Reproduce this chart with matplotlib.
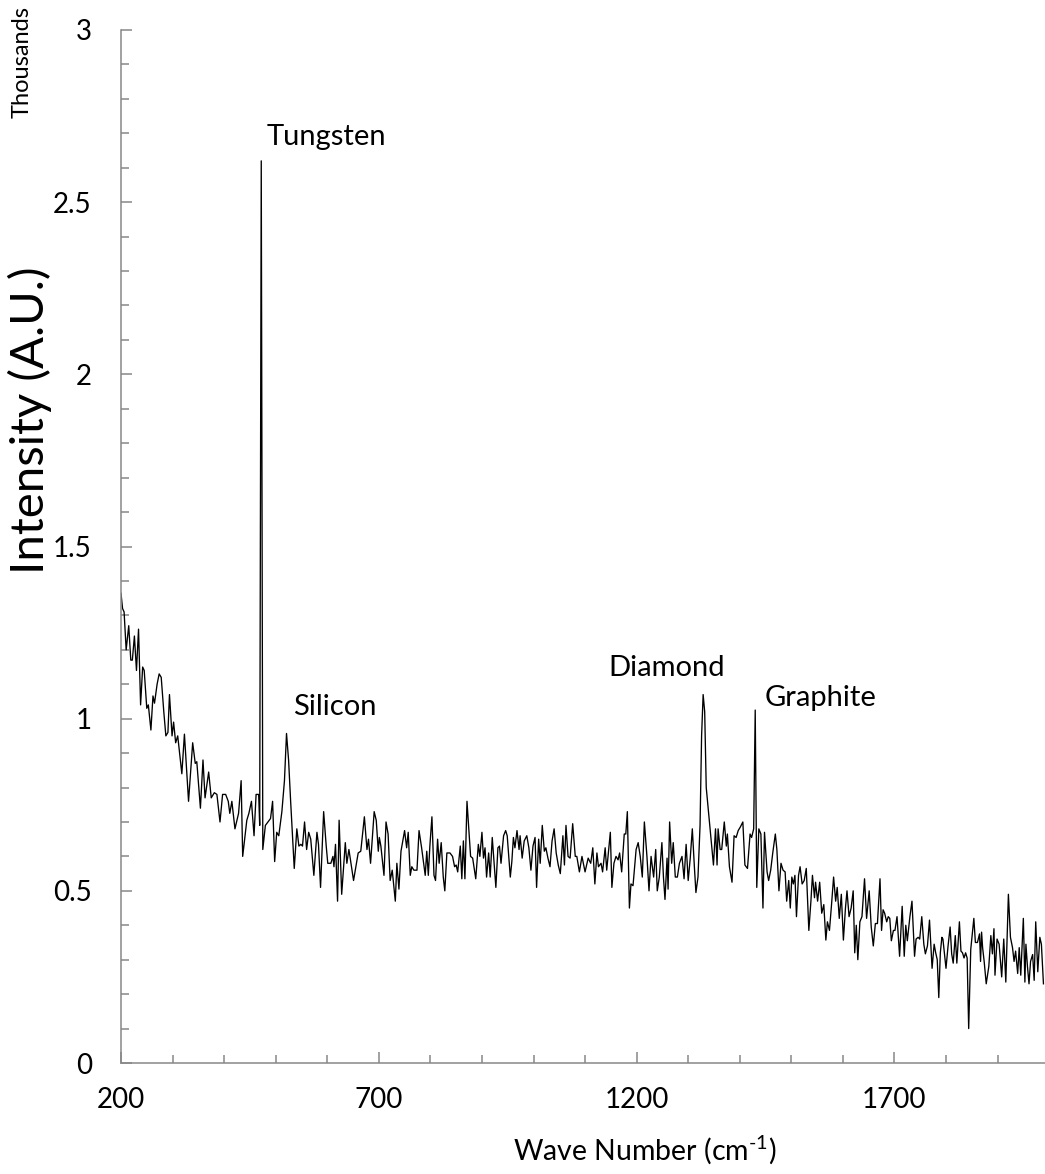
import matplotlib
matplotlib.use("Agg")
import matplotlib.pyplot as plt
from matplotlib.ticker import MultipleLocator, FuncFormatter

# ---------------- data (intensity in thousands of counts) ----------------
wavenumber = [
    200, 203, 206, 210, 215, 219, 222, 226, 230, 234, 238, 242, 245, 250, 253, 258, 262, 265, 270, 274,
    278, 283, 287, 291, 294, 299, 302, 306, 310, 318,
    323, 331, 339, 344, 347, 354, 359, 363, 370, 375, 381, 386, 392, 397, 403, 408, 411, 415, 421, 428,
    433, 436, 444, 448, 453, 458, 462, 467, 469, 472,
    475, 480, 485, 490, 494, 498, 502, 506, 512, 517, 521, 525, 529, 536, 541, 545, 549, 552, 556, 560,
    564, 568, 574, 580, 583, 587, 593, 598, 601, 607,
    611, 613, 616, 620, 623, 628, 635, 638, 642, 651, 660, 665, 672, 677, 680, 684, 691, 695, 699, 701,
    704, 710, 714, 718, 722, 726, 732, 735, 739, 743,
    750, 754, 757, 761, 764, 768, 774, 778, 783, 790, 793, 796, 799, 803, 807, 810, 814, 817, 821, 825,
    828, 832, 838, 843, 847, 850, 853, 858, 861, 864,
    867, 871, 878, 882, 888, 893, 896, 900, 903, 906, 909, 913, 916, 920, 924, 927, 931, 934, 937, 942,
    946, 949, 955, 958, 961, 964, 968, 972, 974, 978,
    982, 987, 991, 995, 999, 1003, 1006, 1010, 1013, 1017, 1021, 1024, 1028, 1032, 1036, 1040, 1044, 1048, 1052, 1057,
    1060, 1063, 1067, 1071, 1076, 1081, 1084, 1089, 1094, 1100,
    1106, 1111, 1115, 1119, 1123, 1126, 1131, 1134, 1139, 1142, 1149, 1152, 1156, 1160, 1164, 1167, 1171, 1176, 1179, 1182,
    1186, 1189, 1193, 1199, 1203, 1207, 1211, 1215, 1220, 1224,
    1228, 1233, 1237, 1240, 1244, 1249, 1252, 1255, 1259, 1261, 1264, 1268, 1271, 1275, 1279, 1283, 1288, 1292, 1296, 1300,
    1304, 1308, 1312, 1315, 1319, 1323, 1326, 1329, 1332, 1335,
    1340, 1349, 1353, 1356, 1358, 1362, 1365, 1370, 1374, 1376, 1380, 1385, 1389, 1393, 1397, 1401, 1406, 1410, 1415, 1420,
    1423, 1427, 1430, 1433, 1437, 1441, 1445, 1448, 1453, 1456,
    1460, 1464, 1469, 1472, 1476, 1480, 1484, 1488, 1491, 1495, 1498, 1501, 1504, 1507, 1510, 1514, 1517, 1521, 1525, 1529,
    1534, 1538, 1541, 1545, 1547, 1551, 1555, 1559, 1563, 1567,
    1570, 1574, 1578, 1582, 1586, 1589, 1593, 1597, 1601, 1605, 1608, 1612, 1616, 1620, 1623, 1626, 1629, 1633, 1637, 1642,
    1646, 1651, 1655, 1659, 1663, 1667, 1672, 1675, 1678, 1681,
    1685, 1688, 1691, 1694, 1698, 1701, 1705, 1710, 1715, 1719, 1722, 1725, 1730, 1734, 1739, 1742, 1746, 1749, 1753, 1757,
    1760, 1764, 1768, 1773, 1777, 1780, 1783, 1786, 1789, 1792,
    1794, 1800, 1804, 1808, 1811, 1814, 1818, 1821, 1826, 1829, 1832, 1835, 1838, 1841, 1844, 1848, 1854, 1857, 1861, 1865,
    1867, 1869, 1871, 1874, 1878, 1883, 1887, 1890, 1893, 1895,
    1899, 1903, 1908, 1912, 1916, 1921, 1925, 1929, 1932, 1935, 1939, 1942, 1945, 1950, 1953, 1955, 1958, 1961, 1964, 1968,
    1971, 1974, 1978, 1982, 1985, 1989,
]

intensity = [
    1.364, 1.32, 1.31, 1.20, 1.27, 1.17, 1.17, 1.24, 1.14, 1.26, 1.04, 1.15, 1.14, 1.03, 1.04, 0.967, 1.066, 1.045, 1.10, 1.13,
    1.12, 1.02, 0.95, 0.96, 1.07, 0.95, 0.99, 0.93, 0.95, 0.84,
    0.955, 0.76, 0.93, 0.87, 0.875, 0.74, 0.88, 0.77, 0.845, 0.77, 0.785, 0.78, 0.70, 0.78, 0.78, 0.76, 0.725, 0.76, 0.68, 0.725,
    0.82, 0.60, 0.705, 0.725, 0.76, 0.66, 0.78, 0.78, 0.69, 2.62,
    0.62, 0.69, 0.70, 0.71, 0.76, 0.585, 0.67, 0.66, 0.73, 0.82, 0.957, 0.88, 0.76, 0.565, 0.68, 0.63, 0.635, 0.63, 0.70, 0.62,
    0.67, 0.65, 0.545, 0.67, 0.635, 0.51, 0.73, 0.63, 0.58, 0.58,
    0.60, 0.57, 0.635, 0.47, 0.705, 0.49, 0.64, 0.58, 0.62, 0.53, 0.61, 0.615, 0.715, 0.62, 0.65, 0.58, 0.73, 0.705, 0.615, 0.655,
    0.63, 0.545, 0.70, 0.665, 0.53, 0.56, 0.47, 0.58, 0.505, 0.615,
    0.675, 0.625, 0.67, 0.545, 0.57, 0.56, 0.56, 0.675, 0.625, 0.545, 0.615, 0.545, 0.63, 0.715, 0.545, 0.53, 0.65, 0.58, 0.64, 0.54,
    0.50, 0.61, 0.61, 0.60, 0.57, 0.575, 0.555, 0.63, 0.535, 0.645,
    0.535, 0.76, 0.60, 0.595, 0.535, 0.635, 0.60, 0.67, 0.595, 0.625, 0.54, 0.61, 0.54, 0.655, 0.57, 0.51, 0.625, 0.63, 0.58, 0.66,
    0.675, 0.66, 0.54, 0.585, 0.655, 0.625, 0.675, 0.62, 0.66, 0.595,
    0.645, 0.66, 0.625, 0.56, 0.63, 0.655, 0.51, 0.65, 0.58, 0.69, 0.615, 0.625, 0.595, 0.57, 0.645, 0.68, 0.61, 0.575, 0.55, 0.66,
    0.575, 0.69, 0.60, 0.595, 0.695, 0.60, 0.60, 0.555, 0.60, 0.555,
    0.595, 0.58, 0.625, 0.52, 0.61, 0.57, 0.58, 0.555, 0.625, 0.56, 0.67, 0.51, 0.58, 0.60, 0.59, 0.61, 0.555, 0.665, 0.665, 0.73,
    0.45, 0.52, 0.515, 0.62, 0.64, 0.60, 0.54, 0.70, 0.60, 0.50,
    0.60, 0.54, 0.62, 0.50, 0.54, 0.64, 0.54, 0.475, 0.595, 0.505, 0.70, 0.58, 0.64, 0.54, 0.54, 0.58, 0.60, 0.535, 0.635, 0.53,
    0.595, 0.68, 0.57, 0.495, 0.54, 0.69, 0.95, 1.07, 1.02, 0.80,
    0.72, 0.575, 0.68, 0.575, 0.68, 0.62, 0.62, 0.70, 0.63, 0.665, 0.57, 0.525, 0.66, 0.655, 0.675, 0.685, 0.70, 0.575, 0.565, 0.665,
    0.655, 0.68, 1.025, 0.51, 0.68, 0.665, 0.45, 0.67, 0.555, 0.53,
    0.56, 0.61, 0.665, 0.62, 0.50, 0.58, 0.56, 0.555, 0.47, 0.53, 0.45, 0.54, 0.52, 0.545, 0.425, 0.545, 0.57, 0.52, 0.53, 0.565,
    0.385, 0.47, 0.545, 0.48, 0.525, 0.47, 0.525, 0.435, 0.46, 0.357,
    0.41, 0.385, 0.46, 0.54, 0.47, 0.51, 0.42, 0.49, 0.357, 0.45, 0.50, 0.425, 0.45, 0.50, 0.32, 0.40, 0.30, 0.41, 0.425, 0.535,
    0.42, 0.50, 0.395, 0.34, 0.405, 0.405, 0.535, 0.385, 0.445, 0.435,
    0.41, 0.425, 0.42, 0.355, 0.385, 0.385, 0.425, 0.31, 0.455, 0.31, 0.40, 0.355, 0.425, 0.47, 0.31, 0.36, 0.365, 0.36, 0.425, 0.345,
    0.317, 0.34, 0.415, 0.275, 0.345, 0.32, 0.30, 0.19, 0.32, 0.365,
    0.36, 0.275, 0.34, 0.395, 0.317, 0.29, 0.37, 0.29, 0.41, 0.325, 0.32, 0.305, 0.32, 0.305, 0.10, 0.33, 0.42, 0.35, 0.35, 0.375,
    0.295, 0.38, 0.335, 0.295, 0.23, 0.28, 0.37, 0.317, 0.39, 0.255,
    0.36, 0.345, 0.25, 0.36, 0.235, 0.49, 0.365, 0.335, 0.295, 0.325, 0.26, 0.335, 0.255, 0.42, 0.235, 0.345, 0.28, 0.23, 0.295, 0.315,
    0.24, 0.41, 0.265, 0.365, 0.345, 0.23,
]

peak_names = ["Tungsten", "Silicon", "Diamond", "Graphite"]

x_ticks = [200, 700, 1200, 1700]
y_ticks = [0, 0.5, 1, 1.5, 2, 2.5, 3]

# ---------------- style ----------------
FONT = "Lato"
plt.rcParams["font.family"] = [FONT, "DejaVu Sans"]
plt.rcParams["mathtext.fontset"] = "custom"
plt.rcParams["mathtext.rm"] = FONT
plt.rcParams["mathtext.it"] = FONT
plt.rcParams["mathtext.bf"] = FONT

W, H = 1045, 1174
fig = plt.figure(figsize=(W / 100, H / 100), dpi=100)
left, right, top, bottom = 121, 1045, 30, 1063
ax = fig.add_axes([left / W, 1 - bottom / H, (right - left) / W, (bottom - top) / H])

ax.plot(wavenumber, intensity, color="black", linewidth=0.95, solid_joinstyle="round")

ax.set_xlim(200, 1992)
ax.set_ylim(0, 3)

axis_grey = "#878787"
for s in ["top", "right"]:
    ax.spines[s].set_visible(False)
for s in ["left", "bottom"]:
    ax.spines[s].set_color(axis_grey)
    ax.spines[s].set_linewidth(1.1)

ax.set_xticks(x_ticks)
ax.set_yticks(y_ticks)
ax.xaxis.set_minor_locator(MultipleLocator(100))
ax.yaxis.set_minor_locator(MultipleLocator(0.1))
ax.yaxis.set_major_formatter(FuncFormatter(lambda v, p: f"{v:g}"))

ax.tick_params(axis="both", which="both", direction="in", color=axis_grey, width=1.1)
ax.tick_params(axis="both", which="major", length=8, labelsize=20)
ax.tick_params(axis="both", which="minor", length=6)
ax.tick_params(axis="y", which="major", pad=21)
ax.tick_params(axis="x", which="major", pad=17)

fig.text(645 / W, 1 - 1150 / H, r"Wave Number (cm$^{\text{-1}}$)", fontsize=20.5,
         ha="center", va="center")
fig.text(30 / W, 1 - 420 / H, "Intensity (A.U.)", rotation=90, fontsize=34,
         ha="center", va="center")
fig.text(22 / W, 1 - 62 / H, "Thousands", rotation=90, fontsize=17,
         ha="center", va="center")

# peak annotations (left edge / vertical centre of each label)
ann_pos = {"Tungsten": (483, 2.69), "Silicon": (534, 1.035),
           "Diamond": (1145, 1.148), "Graphite": (1449, 1.061)}
for name in peak_names:
    px, py = ann_pos[name]
    ax.text(px, py, name, fontsize=21, ha="left", va="center")

fig.savefig("out.png", dpi=100)
